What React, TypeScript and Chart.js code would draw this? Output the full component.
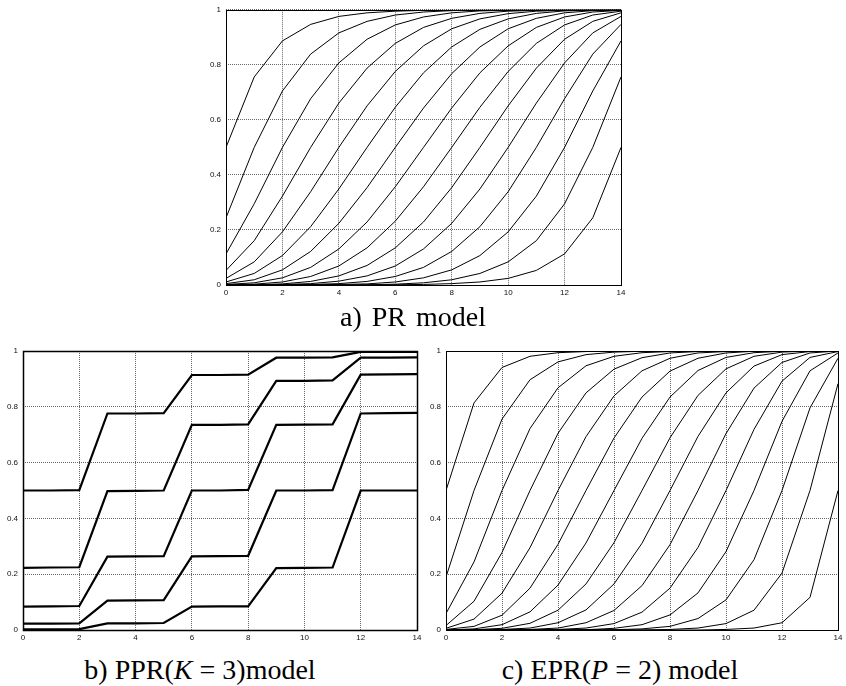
import React, { useEffect, useRef } from "react";
import { Chart, registerables } from "chart.js";

Chart.register(...registerables);

// ---------- shared axes ----------
const xSteps = [0, 1, 2, 3, 4, 5, 6, 7, 8, 9, 10, 11, 12, 13, 14];
const xTickLabels = ["0", "2", "4", "6", "8", "10", "12", "14"];
const yTickLabels = ["0", "0.2", "0.4", "0.6", "0.8", "1"];

// ---------- a) PR model ----------
const PR_K0 = [0.5, 0.756, 0.887, 0.947, 0.976, 0.989, 0.995, 0.998, 0.999, 1, 1, 1, 1, 1, 1];
const PR_K1 = [0.244, 0.5, 0.705, 0.839, 0.916, 0.958, 0.981, 0.992, 0.997, 0.999, 1, 1, 1, 1, 1];
const PR_K2 = [0.113, 0.295, 0.5, 0.677, 0.807, 0.893, 0.945, 0.974, 0.989, 0.996, 0.998, 0.999, 1, 1, 1];
const PR_K3 = [0.053, 0.161, 0.323, 0.5, 0.661, 0.788, 0.878, 0.936, 0.969, 0.987, 0.995, 0.998, 0.999, 1, 1];
const PR_K4 = [0.024, 0.084, 0.193, 0.339, 0.5, 0.651, 0.776, 0.869, 0.931, 0.967, 0.986, 0.995, 0.998, 0.999, 1];
const PR_K5 = [0.011, 0.042, 0.107, 0.212, 0.349, 0.5, 0.646, 0.771, 0.865, 0.929, 0.967, 0.987, 0.996, 0.999, 1];
const PR_K6 = [0.005, 0.019, 0.055, 0.122, 0.224, 0.354, 0.5, 0.643, 0.768, 0.865, 0.931, 0.969, 0.989, 0.997, 0.999];
const PR_K7 = [0.002, 0.008, 0.026, 0.064, 0.131, 0.229, 0.357, 0.5, 0.643, 0.771, 0.869, 0.936, 0.974, 0.992, 0.998];
const PR_K8 = [0.001, 0.003, 0.011, 0.031, 0.069, 0.135, 0.232, 0.357, 0.5, 0.646, 0.776, 0.878, 0.945, 0.981, 0.995];
const PR_K9 = [0, 0.001, 0.004, 0.013, 0.033, 0.071, 0.135, 0.229, 0.354, 0.5, 0.651, 0.788, 0.893, 0.958, 0.989];
const PR_K10 = [0, 0.001, 0.002, 0.005, 0.014, 0.033, 0.069, 0.131, 0.224, 0.349, 0.5, 0.661, 0.807, 0.916, 0.976];
const PR_K11 = [0, 0, 0.001, 0.002, 0.005, 0.013, 0.031, 0.064, 0.122, 0.212, 0.339, 0.5, 0.677, 0.839, 0.947];
const PR_K12 = [0, 0, 0, 0.001, 0.002, 0.004, 0.011, 0.026, 0.055, 0.107, 0.193, 0.323, 0.5, 0.705, 0.887];
const PR_K13 = [0, 0, 0, 0, 0, 0.001, 0.003, 0.008, 0.019, 0.042, 0.084, 0.161, 0.295, 0.5, 0.756];
const PR_K14 = [0, 0, 0, 0, 0, 0, 0.001, 0.002, 0.005, 0.011, 0.024, 0.053, 0.113, 0.244, 0.5];

// ---------- b) PPR(K = 3) model ----------
const PPR_1 = [0.5, 0.5, 0.501, 0.776, 0.776, 0.777, 0.914, 0.914, 0.915, 0.976, 0.976, 0.977, 0.997, 0.997, 0.997];
const PPR_2 = [0.223, 0.224, 0.225, 0.498, 0.499, 0.5, 0.735, 0.735, 0.737, 0.893, 0.893, 0.895, 0.976, 0.976, 0.977];
const PPR_3 = [0.084, 0.085, 0.086, 0.263, 0.264, 0.265, 0.5, 0.5, 0.502, 0.735, 0.736, 0.737, 0.915, 0.916, 0.917];
const PPR_4 = [0.023, 0.023, 0.024, 0.105, 0.106, 0.107, 0.264, 0.265, 0.266, 0.5, 0.5, 0.501, 0.776, 0.777, 0.778];
const PPR_5 = [0.002, 0.002, 0.003, 0.024, 0.024, 0.025, 0.084, 0.085, 0.085, 0.222, 0.223, 0.224, 0.5, 0.5, 0.5];

// ---------- c) EPR(P = 2) model ----------
const EPR_K0 = [0.5, 0.814, 0.941, 0.981, 0.994, 0.998, 1, 1, 1, 1, 1, 1, 1, 1, 1];
const EPR_K1 = [0.19, 0.5, 0.756, 0.897, 0.961, 0.987, 0.996, 0.999, 1, 1, 1, 1, 1, 1, 1];
const EPR_K2 = [0.059, 0.244, 0.5, 0.722, 0.868, 0.947, 0.981, 0.994, 0.998, 0.999, 1, 1, 1, 1, 1];
const EPR_K3 = [0.016, 0.103, 0.278, 0.5, 0.705, 0.85, 0.935, 0.976, 0.993, 0.998, 0.999, 1, 1, 1, 1];
const EPR_K4 = [0.006, 0.039, 0.132, 0.295, 0.5, 0.693, 0.839, 0.929, 0.974, 0.993, 0.998, 0.999, 1, 1, 1];
const EPR_K5 = [0.002, 0.013, 0.053, 0.15, 0.307, 0.5, 0.688, 0.835, 0.928, 0.974, 0.993, 0.999, 1, 1, 1];
const EPR_K6 = [0, 0.004, 0.019, 0.065, 0.161, 0.312, 0.5, 0.687, 0.835, 0.93, 0.977, 0.994, 0.999, 1, 1];
const EPR_K7 = [0, 0.001, 0.006, 0.024, 0.071, 0.165, 0.313, 0.5, 0.689, 0.841, 0.936, 0.981, 0.996, 1, 1];
const EPR_K8 = [0, 0, 0.002, 0.007, 0.026, 0.072, 0.165, 0.311, 0.5, 0.694, 0.85, 0.946, 0.987, 0.998, 1];
const EPR_K9 = [0, 0, 0, 0.002, 0.007, 0.026, 0.07, 0.159, 0.306, 0.5, 0.704, 0.867, 0.959, 0.993, 1];
const EPR_K10 = [0, 0, 0, 0, 0.002, 0.007, 0.023, 0.064, 0.15, 0.296, 0.5, 0.719, 0.892, 0.977, 0.998];
const EPR_K11 = [0, 0, 0, 0, 0, 0.001, 0.006, 0.019, 0.054, 0.133, 0.281, 0.5, 0.748, 0.929, 0.993];
const EPR_K12 = [0, 0, 0, 0, 0, 0, 0.001, 0.004, 0.013, 0.041, 0.108, 0.252, 0.5, 0.796, 0.974];
const EPR_K13 = [0, 0, 0, 0, 0, 0, 0, 0, 0.002, 0.007, 0.023, 0.071, 0.204, 0.5, 0.883];
const EPR_K14 = [0, 0, 0, 0, 0, 0, 0, 0, 0, 0, 0.002, 0.007, 0.026, 0.117, 0.5];

const prSeries = [PR_K0, PR_K1, PR_K2, PR_K3, PR_K4, PR_K5, PR_K6, PR_K7, PR_K8, PR_K9, PR_K10, PR_K11, PR_K12, PR_K13, PR_K14];
const pprSeries = [PPR_1, PPR_2, PPR_3, PPR_4, PPR_5];
const eprSeries = [EPR_K0, EPR_K1, EPR_K2, EPR_K3, EPR_K4, EPR_K5, EPR_K6, EPR_K7, EPR_K8, EPR_K9, EPR_K10, EPR_K11, EPR_K12, EPR_K13, EPR_K14];

// frame around the plotting area (gnuplot border)
const framePlugin = {
  id: "frame",
  afterDatasetsDraw(chart: any, _args: any, opts: any) {
    const { ctx, chartArea } = chart;
    const l = Math.round(chartArea.left) + 0.5;
    const t = Math.round(chartArea.top) + 0.5;
    const r = Math.round(chartArea.right) + 0.5;
    const b = Math.round(chartArea.bottom) + 0.5;
    ctx.save();
    ctx.strokeStyle = "#000";
    ctx.lineWidth = opts.width || 1;
    ctx.strokeRect(l, t, r - l, b - t);
    ctx.restore();
  },
};

type Box = { left: number; top: number; width: number; height: number };
type Area = { left: number; top: number; right: number; bottom: number };

function Panel(props: { box: Box; area: Area; series: number[][]; lineWidth: number; frameWidth: number }) {
  const ref = useRef<HTMLCanvasElement | null>(null);
  const { box, area, series, lineWidth, frameWidth } = props;
  useEffect(() => {
    if (!ref.current) return;
    const yAxisWidth = area.left - box.left;
    const xAxisHeight = box.top + box.height - area.bottom;
    const tickFont = { family: "'Liberation Sans', Arial, sans-serif", size: 8 };
    const chart = new Chart(ref.current, {
      type: "line",
      data: {
        datasets: series.map((s) => ({
          data: s.map((y, i) => ({ x: xSteps[i], y })),
          borderColor: "#000",
          borderWidth: lineWidth,
          pointRadius: 0,
          pointHoverRadius: 0,
          fill: false,
          tension: 0,
        })),
      },
      options: {
        animation: false,
        responsive: false,
        events: [],
        layout: {
          padding: { top: area.top - box.top, right: box.left + box.width - area.right, left: 0, bottom: 0 },
        },
        plugins: {
          legend: { display: false },
          tooltip: { enabled: false },
          frame: { width: frameWidth },
        } as any,
        scales: {
          x: {
            type: "linear",
            min: 0,
            max: 14,
            afterFit: (s: any) => {
              s.height = xAxisHeight;
            },
            ticks: {
              stepSize: 2,
              autoSkip: false,
              maxRotation: 0,
              padding: 3,
              color: "#111",
              font: tickFont,
              callback: (_v: any, i: number) => xTickLabels[i],
            },
            grid: { color: "#666", lineWidth: 1, drawTicks: false },
            border: { display: false, dash: [1, 1] },
          },
          y: {
            type: "linear",
            min: 0,
            max: 1,
            afterFit: (s: any) => {
              s.width = yAxisWidth;
            },
            ticks: {
              stepSize: 0.2,
              autoSkip: false,
              padding: 5,
              color: "#111",
              font: tickFont,
              callback: (_v: any, i: number) => yTickLabels[i],
            },
            grid: { color: "#666", lineWidth: 1, drawTicks: false },
            border: { display: false, dash: [1, 1] },
          },
        },
      },
      plugins: [framePlugin],
    });
    return () => chart.destroy();
  }, []);
  return (
    <canvas
      ref={ref}
      width={box.width}
      height={box.height}
      style={{ position: "absolute", left: box.left, top: box.top, width: box.width, height: box.height }}
    />
  );
}

const titleStyle = (center: number, top: number, extra?: React.CSSProperties): React.CSSProperties => ({
  position: "absolute",
  left: center - 200,
  top,
  width: 400,
  textAlign: "center",
  fontFamily: "'Liberation Serif', 'Times New Roman', serif",
  fontSize: 28,
  lineHeight: "28px",
  color: "#000",
  whiteSpace: "nowrap",
  ...(extra || {}),
});

export default function App() {
  return (
    <div style={{ position: "absolute", left: 0, top: 0, width: 846, height: 686, background: "#fff", overflow: "hidden" }}>
      <Panel
        box={{ left: 176, top: 0, width: 455, height: 305 }}
        area={{ left: 226, top: 6, right: 621, bottom: 285 }}
        series={prSeries}
        lineWidth={1}
        frameWidth={1}
      />
      <Panel
        box={{ left: 0, top: 340, width: 428, height: 310 }}
        area={{ left: 23, top: 351, right: 417, bottom: 630 }}
        series={pprSeries}
        lineWidth={2.2}
        frameWidth={1.5}
      />
      <Panel
        box={{ left: 428, top: 340, width: 418, height: 310 }}
        area={{ left: 446, top: 351, right: 838, bottom: 630 }}
        series={eprSeries}
        lineWidth={1}
        frameWidth={1}
      />
      <div style={titleStyle(413, 303, { wordSpacing: "3px" })}>a) PR model</div>
      <div style={titleStyle(200, 656)}>
        b) PPR(<i>K</i> = 3)model
      </div>
      <div style={titleStyle(620, 656)}>
        c) EPR(<i>P</i> = 2) model
      </div>
    </div>
  );
}
